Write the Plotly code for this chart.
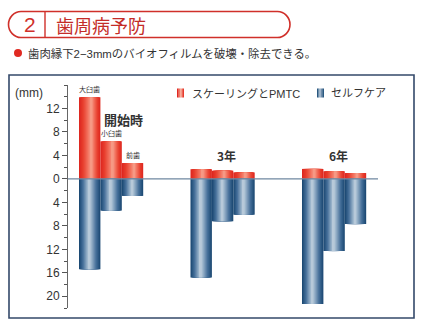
import plotly.graph_objects as go

# ---- data -------------------------------------------------------------
groups = ["開始時", "3年", "6年"]
teeth = ["大臼歯", "小臼歯", "前歯"]
# pocket depth reduction (mm): professional care vs. self care
pmtc = [[13.9, 6.4, 2.7], [1.65, 1.4, 1.1], [1.7, 1.3, 1.0]]
selfcare = [[15.4, 5.4, 2.9], [16.8, 7.2, 6.1], [21.3, 12.3, 7.7]]
y_ticks = [-20, -16, -12, -8, -4, 0, 4, 8, 12]
y_ticktext = [str(abs(v)) for v in y_ticks]
series_names = ["スケーリングとPMTC", "セルフケア"]

# ---- geometry ---------------------------------------------------------
W, H = 425, 329
L, R, T, B = 68, 378, 85, 308          # plot area in pixels
PW, PH = R - L, B - T
BAR_W = 1.0
GROUP_STEP = 5.21
FIRST_LEFT = 0.514
X_MAX = PW / 21.4


def px(x):
    return (x - L) / PW


def py(y):
    return (B - y) / PH


def hex2rgb(h):
    h = h.lstrip("#")
    return [int(h[i:i + 2], 16) for i in (0, 2, 4)]


def shade(profile, d):
    """Colour at normalised distance d (0 = highlight, 1 = edge)."""
    for (d0, c0), (d1, c1) in zip(profile, profile[1:]):
        if d0 <= d <= d1:
            t = (d - d0) / (d1 - d0) if d1 > d0 else 0
            a, b = hex2rgb(c0), hex2rgb(c1)
            return "rgb(%d,%d,%d)" % tuple(round(a[i] + (b[i] - a[i]) * t)
                                           for i in range(3))
    return profile[-1][1]


# cylinder-like shading: (distance from highlight, colour)
RED_PROFILE = [(0, "#f8a792"), (0.35, "#f2705c"), (0.7, "#e8402f"), (1, "#de2820")]
BLUE_PROFILE = [(0, "#c9d7e3"), (0.3, "#8eaac3"), (0.65, "#46709a"), (1, "#1d4a74")]
RED_HI, BLUE_HI = 0.58, 0.48     # highlight position across the bar
LAYERS = 11

FONT = "Liberation Sans, Noto Sans CJK JP"
JP = "Noto Sans CJK JP"

fig = go.Figure()

lefts = [[FIRST_LEFT + g * GROUP_STEP + j * BAR_W for j in range(len(teeth))]
         for g in range(len(groups))]
flat_left = [v for row in lefts for v in row]
flat_pmtc = [v for row in pmtc for v in row]
flat_self = [-v for row in selfcare for v in row]


def add_shaded(values, profile, hi):
    # nested bars, widest first, narrowing towards the highlight line
    for k in range(LAYERS):
        a = 1 - k / LAYERS
        lo_edge = hi - a * hi
        hi_edge = hi + a * (1 - hi)
        fig.add_trace(go.Bar(
            x=[l + (lo_edge + hi_edge) / 2 * BAR_W for l in flat_left],
            y=values, width=(hi_edge - lo_edge) * BAR_W,
            marker=dict(color=shade(profile, a), line=dict(width=0)),
            hoverinfo="skip", showlegend=False))


add_shaded(flat_pmtc, RED_PROFILE, RED_HI)
add_shaded(flat_self, BLUE_PROFILE, BLUE_HI)

annotations = []
for g, grp in enumerate(groups):
    centre = lefts[g][1] + BAR_W / 2
    if g == 0:
        for j, tooth in enumerate(teeth):
            annotations.append(dict(
                x=lefts[g][j] + BAR_W / 2, y=pmtc[g][j], xref="x", yref="y",
                text=tooth, showarrow=False, xanchor="center",
                yanchor="bottom", yshift=1,
                font=dict(family=JP, size=7, color="#333")))
        annotations.append(dict(
            x=centre + 0.6, y=10.2, xref="x", yref="y", text=f"<b>{grp}</b>",
            showarrow=False, xanchor="center", yanchor="middle",
            font=dict(family=JP, size=13, color="#333")))
    else:
        annotations.append(dict(
            x=centre + 0.2, y=max(pmtc[g]), xref="x", yref="y",
            text=f"<b>{grp}</b>", showarrow=False, xanchor="center",
            yanchor="bottom", yshift=3,
            font=dict(family=JP, size=12, color="#333")))

shapes = []
# zero baseline
shapes.append(dict(type="line", xref="x", yref="y", x0=0, x1=X_MAX, y0=0, y1=0,
                   line=dict(color="#6f87a0", width=1.2), layer="above"))
# outer frame
shapes.append(dict(type="rect", xref="paper", yref="paper",
                   x0=px(9), x1=px(414), y0=py(318), y1=py(75),
                   line=dict(color="#34496a", width=1.6)))

# header: rounded box
x0, x1, y0, y1, r = 8.5, 290, 11.5, 37.5, 12.5
ym = (y0 + y1) / 2
k = 0.5523 * r
pts = [("M", [(x0 + r, y0)]), ("L", [(x1 - r, y0)]),
       ("C", [(x1 - r + k, y0), (x1, ym - k), (x1, ym)]),
       ("C", [(x1, ym + k), (x1 - r + k, y1), (x1 - r, y1)]),
       ("L", [(x0 + r, y1)]),
       ("C", [(x0 + r - k, y1), (x0, ym + k), (x0, ym)]),
       ("C", [(x0, ym - k), (x0 + r - k, y0), (x0 + r, y0)])]
path = " ".join(cmd + " " + " ".join(f"{px(a):.5f},{py(b):.5f}" for a, b in p)
                for cmd, p in pts) + " Z"
shapes.append(dict(type="path", xref="paper", yref="paper", path=path,
                   line=dict(color="#d0302a", width=1.6)))
shapes.append(dict(type="line", xref="paper", yref="paper",
                   x0=px(45), x1=px(45), y0=py(y0), y1=py(y1),
                   line=dict(color="#d0302a", width=1.4)))
# bullet
shapes.append(dict(type="circle", xref="paper", yref="paper",
                   x0=px(14), x1=px(22), y0=py(57), y1=py(49),
                   fillcolor="#e02a22", line=dict(width=0)))


# legend swatches
def swatch(xl, colors):
    w = 7 / len(colors)
    for i, c in enumerate(colors):
        shapes.append(dict(type="rect", xref="paper", yref="paper",
                           x0=px(xl + i * w), x1=px(xl + (i + 1) * w),
                           y0=py(97.5), y1=py(88.5), fillcolor=c,
                           line=dict(width=0)))


swatch(177, ["#e02a22", "#f07a66", "#f59a86", "#e63a2c"])
swatch(317, ["#2a5880", "#9fb5ca", "#6f8dab", "#2a5880"])


def label(x, y, text, size, color="#333", family=FONT, anchor="left"):
    annotations.append(dict(
        x=px(x), y=py(y), xref="paper", yref="paper", text=text,
        showarrow=False, xanchor=anchor, yanchor="middle",
        font=dict(family=family, size=size, color=color)))


label(30, 25, "2", 21, "#d0302a", anchor="center")
label(54, 25, "歯周病予防", 18, "#c42c28", family=JP)
label(26, 53, "歯肉縁下2−3mmのバイオフィルムを破壊・除去できる。", 11.4)
label(190, 93, series_names[0], 11)
label(329, 93, series_names[1], 11)
label(13, 93, "(mm)", 12)

fig.update_layout(
    width=W, height=H, autosize=False,
    margin=dict(l=L, r=W - R, t=T, b=H - B, pad=0),
    paper_bgcolor="white", plot_bgcolor="rgba(0,0,0,0)",
    showlegend=False, barmode="overlay",
    xaxis=dict(range=[0, X_MAX], visible=False, fixedrange=True),
    yaxis=dict(range=[-22, 16], tickvals=y_ticks, ticktext=y_ticktext,
               ticks="outside", ticklen=5, tickcolor="#555",
               showline=True, linecolor="#666", linewidth=1,
               showgrid=False, zeroline=False, fixedrange=True,
               tickfont=dict(family=FONT, size=12, color="#333"),
               minor=dict(ticks="outside", ticklen=3, tickcolor="#555",
                          tick0=0, dtick=2, showgrid=False)),
    shapes=shapes, annotations=annotations,
)

fig.write_html("out.html")
